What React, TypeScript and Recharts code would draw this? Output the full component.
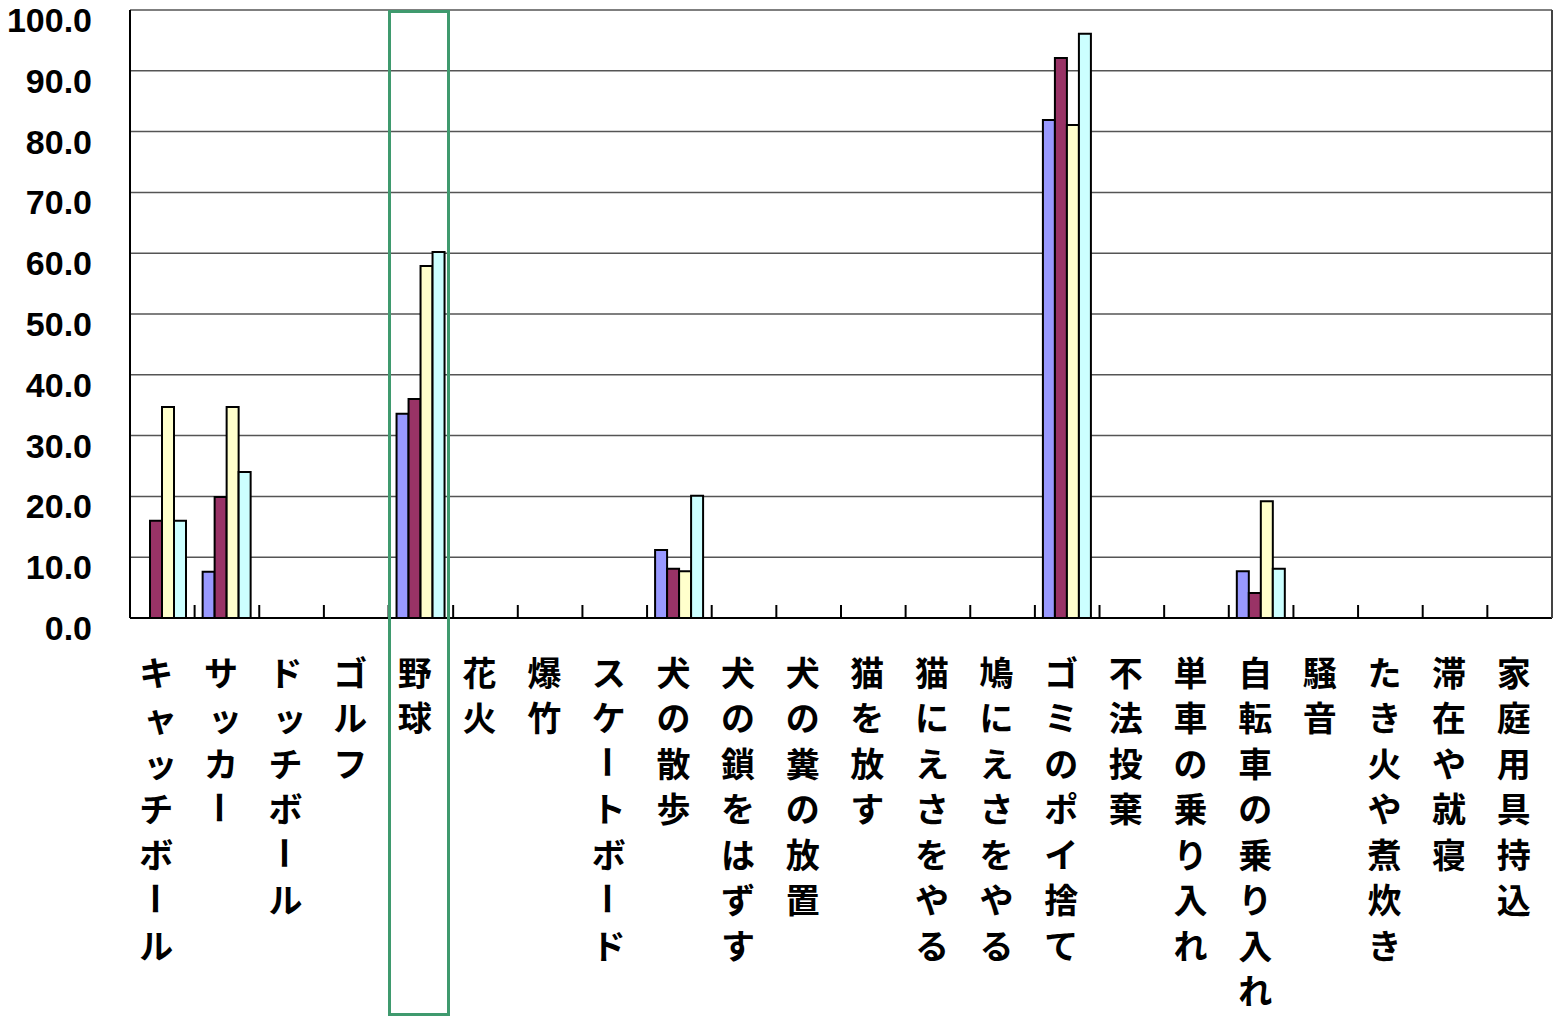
import React from "react";
import { BarChart, Bar, XAxis, YAxis, CartesianGrid } from "recharts";

document.body.style.margin = "0";

const categories = [
  "キャッチボール", "サッカー", "ドッチボール", "ゴルフ", "野球", "花火", "爆竹", "スケートボード",
  "犬の散歩", "犬の鎖をはずす", "犬の糞の放置", "猫を放す", "猫にえさをやる", "鳩にえさをやる",
  "ゴミのポイ捨て", "不法投棄", "単車の乗り入れ", "自転車の乗り入れ", "騒音", "たき火や煮炊き",
  "滞在や就寝", "家庭用具持込"
];
const seriesA = [0, 7.6, 0, 0, 33.6, 0, 0, 0, 11.2, 0, 0, 0, 0, 0, 81.9, 0, 0, 7.7, 0, 0, 0, 0];
const seriesB = [16.0, 19.9, 0, 0, 36.0, 0, 0, 0, 8.1, 0, 0, 0, 0, 0, 92.1, 0, 0, 4.1, 0, 0, 0, 0];
const seriesC = [34.7, 34.7, 0, 0, 57.9, 0, 0, 0, 7.7, 0, 0, 0, 0, 0, 81.1, 0, 0, 19.2, 0, 0, 0, 0];
const seriesD = [16.0, 24.0, 0, 0, 60.2, 0, 0, 0, 20.1, 0, 0, 0, 0, 0, 96.1, 0, 0, 8.1, 0, 0, 0, 0];
const yTicks = [0, 10, 20, 30, 40, 50, 60, 70, 80, 90, 100];

const data = categories.map((name, i) => ({
  name,
  a: seriesA[i],
  b: seriesB[i],
  c: seriesC[i],
  d: seriesD[i]
}));

const W = 1556;
const H = 1016;
const PLOT_LEFT = 130;
const PLOT_RIGHT = 1553;
const band = (PLOT_RIGHT - PLOT_LEFT) / categories.length;
const SMALL_KANA = "ャュョッァィゥェォゃゅょっ";

function CategoryTick(props: any) {
  const { x, y, payload } = props;
  const chars = Array.from(String(payload.value));
  const bx = x - band / 2;
  return (
    <g>
      <line x1={bx} x2={bx} y1={y - 13} y2={y} stroke="#000" strokeWidth={2} />
      {chars.map((ch, i) => {
        const cx = x - 6;
        const cy = y + 53 + i * 45.5;
        const dx = SMALL_KANA.includes(ch) ? 4 : 0;
        return (
          <text
            key={i}
            x={cx + dx}
            y={cy}
            textAnchor="middle"
            dominantBaseline="central"
            fontSize={34}
            fontWeight="bold"
            fontFamily="'Noto Sans CJK JP', sans-serif"
            fill="#000"
            transform={ch === "ー" ? `rotate(90 ${cx} ${cy})` : undefined}
          >
            {ch}
          </text>
        );
      })}
    </g>
  );
}

function ValueTick(props: any) {
  const { x, y, payload } = props;
  return (
    <text
      x={x - 38}
      y={y + 10}
      textAnchor="end"
      dominantBaseline="central"
      fontSize={34}
      fontWeight="bold"
      fontFamily="'Liberation Sans', Arial, sans-serif"
      fill="#000"
    >
      {Number(payload.value).toFixed(1)}
    </text>
  );
}

export default function App() {
  return (
    <div style={{ position: "relative", width: W, height: H, overflow: "hidden", background: "#fff" }}>
      <BarChart
        width={W}
        height={H}
        data={data}
        margin={{ top: 10, right: W - PLOT_RIGHT, left: 0, bottom: 0 }}
        barCategoryGap={8}
        barGap={0}
      >
        <CartesianGrid vertical={false} stroke="#555" strokeWidth={1.5} />
        <XAxis
          dataKey="name"
          interval={0}
          height={H - 10 - 608}
          tickSize={0}
          tickMargin={0}
          tick={<CategoryTick />}
          axisLine={{ stroke: "#000", strokeWidth: 2 }}
          tickLine={false}
        />
        <YAxis
          domain={[0, 100]}
          ticks={yTicks}
          width={PLOT_LEFT}
          tickSize={0}
          tickMargin={0}
          tick={<ValueTick />}
          axisLine={{ stroke: "#000", strokeWidth: 2 }}
          tickLine={false}
        />
        <YAxis
          yAxisId="frame"
          orientation="right"
          domain={[0, 100]}
          width={1}
          tick={false}
          tickLine={false}
          axisLine={{ stroke: "#444", strokeWidth: 2 }}
        />
        <Bar dataKey="a" fill="#9999FF" stroke="#000" strokeWidth={2} isAnimationActive={false} />
        <Bar dataKey="b" fill="#993366" stroke="#000" strokeWidth={2} isAnimationActive={false} />
        <Bar dataKey="c" fill="#FFFFCC" stroke="#000" strokeWidth={2} isAnimationActive={false} />
        <Bar dataKey="d" fill="#CCFFFF" stroke="#000" strokeWidth={2} isAnimationActive={false} />
      </BarChart>
      <div
        style={{
          position: "absolute",
          left: PLOT_LEFT + band * 4 - 1,
          top: 10,
          width: band - 2,
          height: H - 10,
          border: "3px solid #3f9a6e",
          boxSizing: "border-box",
          pointerEvents: "none"
        }}
      />
    </div>
  );
}
